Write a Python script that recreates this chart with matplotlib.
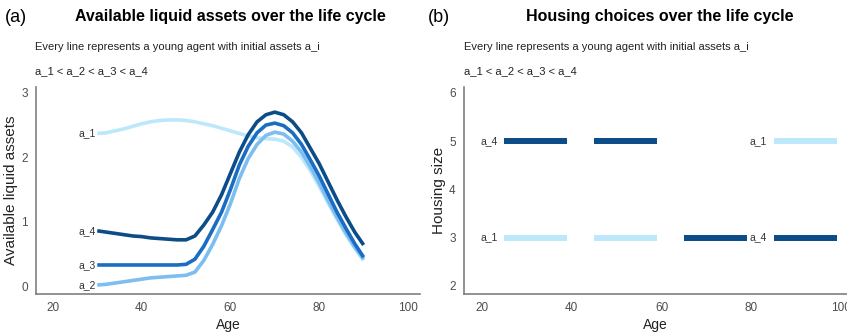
import matplotlib.pyplot as plt
import numpy as np

plt.rcParams['font.family'] = ['Liberation Sans', 'DejaVu Sans']

# Panel (a): liquid assets by age
ages = [30, 32, 34, 36, 38, 40, 42, 44, 46, 48, 50, 52, 54, 56, 58, 60,
        62, 64, 66, 68, 70, 72, 74, 76, 78, 80, 82, 84, 86, 88, 90]
a_1 = [2.37, 2.38, 2.41, 2.44, 2.48, 2.52, 2.55, 2.57, 2.58, 2.58, 2.57,
       2.55, 2.52, 2.49, 2.45, 2.41, 2.37, 2.33, 2.30, 2.29, 2.28, 2.25,
       2.16, 2.00, 1.79, 1.55, 1.29, 1.04, 0.80, 0.59, 0.40]
a_2 = [0.02, 0.03, 0.05, 0.07, 0.09, 0.11, 0.13, 0.14, 0.15, 0.16, 0.17,
       0.22, 0.40, 0.65, 0.94, 1.28, 1.67, 1.98, 2.20, 2.34, 2.39, 2.36,
       2.25, 2.08, 1.85, 1.60, 1.33, 1.07, 0.83, 0.61, 0.42]
a_3 = [0.33, 0.33, 0.33, 0.33, 0.33, 0.33, 0.33, 0.33, 0.33, 0.33, 0.34,
       0.42, 0.62, 0.88, 1.15, 1.50, 1.88, 2.17, 2.38, 2.50, 2.53, 2.49,
       2.38, 2.20, 1.96, 1.71, 1.43, 1.15, 0.90, 0.66, 0.45]
a_4 = [0.86, 0.84, 0.82, 0.80, 0.78, 0.77, 0.75, 0.74, 0.73, 0.72, 0.72,
       0.78, 0.95, 1.15, 1.42, 1.75, 2.08, 2.35, 2.55, 2.66, 2.70, 2.66,
       2.55, 2.38, 2.14, 1.90, 1.62, 1.34, 1.08, 0.84, 0.64]

names = ['a_1', 'a_2', 'a_3', 'a_4']
colors = ['#bde8fc', '#7dbdf0', '#1a6dc2', '#0c4d88']

# Panel (b): housing choices (agent, start age, end age, size)
h_agent = ['a_4', 'a_4', 'a_4', 'a_4', 'a_1', 'a_1', 'a_1']
h_start = [25, 45, 65, 85, 25, 45, 85]
h_end = [39, 59, 79, 99, 39, 59, 99]
h_size = [5, 5, 3, 3, 3, 3, 5]
h_labelled = [True, False, False, True, True, False, True]

fig = plt.figure(figsize=(8.47, 3.34), dpi=100)
ax1 = fig.add_axes([36/847, 1-294/334, 384/847, 207/334])
ax2 = fig.add_axes([464/847, 1-294/334, 383/847, 207/334])

series = [a_1, a_2, a_3, a_4]
for name, vals, c in zip(names, series, colors):
    ax1.plot(ages, vals, color=c, lw=2.6, solid_capstyle='butt',
             solid_joinstyle='round', zorder=2)
    ax1.text(ages[0] - 0.4, vals[0], name, ha='right', va='center',
             fontsize=7.5, color='#333333')

ax1.set_xlim(16.2, 102.7)
ax1.set_ylim(-0.12, 3.09)
ax1.set_xticks([20, 40, 60, 80, 100])
ax1.set_yticks([0, 1, 2, 3])
ax1.set_xlabel('Age', fontsize=10, color='#222222', labelpad=3)
ax1.set_ylabel('Available liquid assets', fontsize=11, color='#222222', labelpad=2)

cmap = dict(zip(names, colors))
for ag, s, e, sz, lab in zip(h_agent, h_start, h_end, h_size, h_labelled):
    ax2.plot([s, e], [sz, sz], color=cmap[ag], lw=4.3, solid_capstyle='butt')
    if lab:
        ax2.text(s - 1.5, sz, ag, ha='right', va='center',
                 fontsize=7.5, color='#333333')

ax2.set_xlim(16.0, 101.3)
ax2.set_ylim(1.83, 6.12)
ax2.set_xticks([20, 40, 60, 80, 100])
ax2.set_yticks([2, 3, 4, 5, 6])
ax2.set_xlabel('Age', fontsize=10, color='#222222', labelpad=3)
ax2.set_ylabel('Housing size', fontsize=11, color='#222222', labelpad=2)

for ax in (ax1, ax2):
    for sp in ['top', 'right']:
        ax.spines[sp].set_visible(False)
    for sp in ['left', 'bottom']:
        ax.spines[sp].set_color('#7f7f7f')
        ax.spines[sp].set_linewidth(1.2)
    ax.tick_params(length=0, labelsize=8.5, colors='#4d4d4d', pad=6)
    ax.patch.set_alpha(0)

# titles and subtitles
fig.text(5/847, 1-17/334, '(a)', fontsize=13, va='center', ha='left')
fig.text(230/847, 1-17/334, 'Available liquid assets over the life cycle',
         fontsize=11.5, fontweight='bold', va='center', ha='center')
fig.text(428/847, 1-17/334, '(b)', fontsize=13, va='center', ha='left')
fig.text(660/847, 1-17/334, 'Housing choices over the life cycle',
         fontsize=11.5, fontweight='bold', va='center', ha='center')
for x0 in (35, 464):
    fig.text(x0/847, 1-47/334, 'Every line represents a young agent with initial assets a_i',
             fontsize=8, va='center', ha='left', color='#222222')
    fig.text(x0/847, 1-71/334, 'a_1 < a_2 < a_3 < a_4',
             fontsize=8, va='center', ha='left', color='#222222')

fig.savefig('out.png', dpi=100)
